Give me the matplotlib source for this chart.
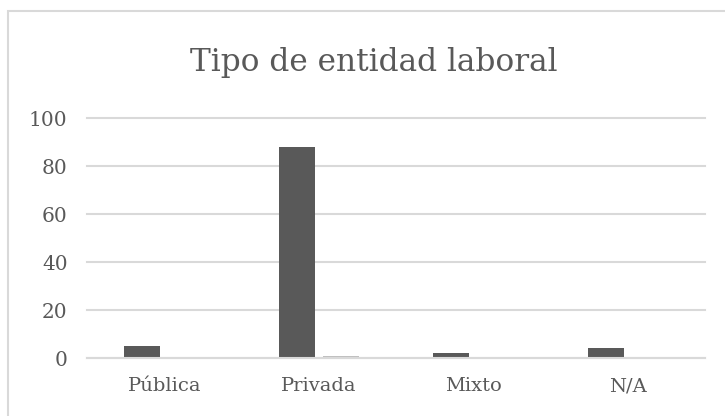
import matplotlib
matplotlib.use("Agg")
from matplotlib import pyplot as plt
from matplotlib.patches import Rectangle
import numpy as np

# Datos
categorias = ["Pública", "Privada", "Mixto", "N/A"]
serie_1 = [5, 88, 2, 4]
serie_2 = [0, 1, 0, 0]
ticks_y = [0, 20, 40, 60, 80, 100]

TEXTO = "#595959"
GRID = "#d9d9d9"

plt.rcParams["font.family"] = ["DejaVu Serif"]

fig = plt.figure(figsize=(7.25, 4.16), dpi=100)
ax = fig.add_axes([87 / 725, 1 - 358 / 416, (705 - 87) / 725, 240 / 416])

x = np.arange(len(categorias))
ancho = 0.233
sep = 0.052
ax.bar(x - (ancho + sep) / 2, serie_1, ancho, color="#595959", zorder=3)
ax.bar(x + (ancho + sep) / 2, serie_2, ancho, color="#bfbfbf", zorder=3)

ax.set_xlim(-0.5, len(categorias) - 0.5)
ax.set_ylim(0, 100)
ax.set_yticks(ticks_y)
ax.set_xticks(x)
ax.set_xticklabels(categorias)
ax.yaxis.grid(True, color=GRID, linewidth=1.5, zorder=0)
for linea in ax.get_ygridlines():
    linea.set_clip_on(False)
ax.tick_params(axis="both", length=0, labelcolor=TEXTO)
ax.tick_params(axis="y", pad=14, labelsize=14.5)
ax.tick_params(axis="x", pad=14, labelsize=14)
for s in ["top", "right", "left"]:
    ax.spines[s].set_visible(False)
ax.spines["bottom"].set_color(GRID)
ax.spines["bottom"].set_linewidth(1.5)
ax.spines["bottom"].set_zorder(4)

fig.text(374 / 725, 1 - 71 / 416, "Tipo de entidad laboral", ha="center",
         va="baseline", fontsize=22.5, color=TEXTO)

# marco del grafico
fig.patches.append(Rectangle((7.5 / 725, -0.1), 1.0, 1.1 - 10.5 / 416,
                             transform=fig.transFigure, fill=False,
                             edgecolor=GRID, linewidth=1.5))

fig.savefig("out.png", dpi=100, facecolor="white")
